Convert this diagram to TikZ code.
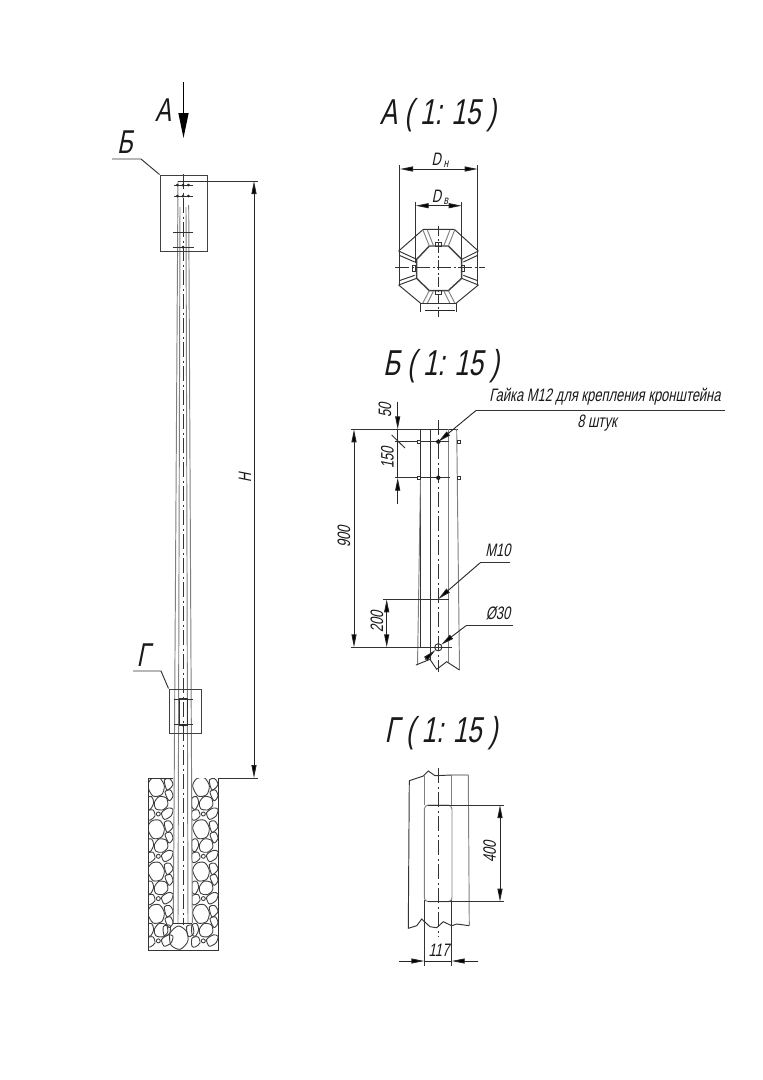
\documentclass[tikz,border=0pt]{standalone}
\usepackage{fontspec}
\usetikzlibrary{arrows.meta,calc}
\newfontfamily\gost[FakeSlant=0.2,FakeStretch=0.72]{Liberation Sans}
\tikzset{
  ln/.style={line width=0.95pt,draw=black!80},
  lt/.style={line width=0.95pt,draw=black!50},
  dimline/.style={line width=0.9pt,draw=black!85},
  axisline/.style={line width=0.9pt,draw=black!80,dash pattern=on 15pt off 3.5pt on 2pt off 3.5pt},
  arr/.style={-{Triangle[length=13pt,width=5pt,fill=black]}},
  arrs/.style={{Triangle[length=13pt,width=5pt,fill=black]}-{Triangle[length=13pt,width=5pt,fill=black]}},
  title/.style={font=\gost\fontsize{36}{36}\selectfont,inner sep=0pt,text=black!90},
  dimtext/.style={font=\gost\fontsize{18}{18}\selectfont,inner sep=0pt,text=black!90},
  stone/.style={line width=0.9pt,draw=black!75},
}
\newcommand{\stonecell}{%
  \draw[stone] plot[smooth cycle] coordinates {(38,48)(50,26)(74,24)(88,48)(80,74)(54,78)};
  \draw[stone] plot[smooth cycle] coordinates {(58,98)(72,80)(94,84)(98,106)(82,120)(62,116)};
  \draw[stone] (70,132) circle (6);
  \draw[stone] plot[smooth cycle] coordinates {(88,30)(104,26)(114,44)(96,60)};
  \draw[stone] plot[smooth cycle] coordinates {(90,66)(106,60)(114,78)(102,92)};
  \draw[stone] plot[smooth cycle] coordinates {(36,84)(50,80)(56,98)(46,118)(36,112)};
  \draw[stone] plot[smooth cycle] coordinates {(80,128)(100,114)(114,118)(108,138)(88,148)};
  \draw[stone] plot[smooth cycle] coordinates {(36,124)(54,120)(60,138)(46,150)(36,148)};
}
\begin{document}
\begin{tikzpicture}[x=1pt,y=-1pt]
\useasboundingbox (0,0) rectangle (763,1080);
\fill[white] (0,0) rectangle (763,1080);

% ---------- foundation
\begin{scope}
  \clip (148,778) rectangle (218,950);
  \begin{scope}[shift={(135,770)},x=0.3333pt,y=-0.3333pt]
    \foreach \k in {0,1,2,3}{
      \begin{scope}[yshift=-\k*42.3pt]
        \stonecell
      \end{scope}
      \begin{scope}[xshift=45pt,yshift=-\k*42.3pt]
        \stonecell
      \end{scope}
    }
    \draw[stone] plot[smooth cycle] coordinates {(105,490)(130,468)(155,485)(158,515)(135,538)(108,525)};
    \draw[stone] plot[smooth cycle] coordinates {(155,470)(172,466)(176,490)(160,500)};
    \draw[stone] plot[smooth cycle] coordinates {(85,470)(105,466)(104,490)(88,498)};
  \end{scope}
\end{scope}
\draw[ln] (148,778) -- (148,950) -- (218,950) -- (218,778);
\draw[ln] (148,778) -- (173,778);
\fill[white] (178,181) -- (173,923) -- (192,923) -- (189,181) -- cycle;

% ---------- pole
\draw[lt] (178,181) -- (173.3,923);
\draw[lt] (188.7,205) -- (192.3,923);
\draw[lt] (180,207) -- (178,923);
\draw[lt] (186,207) -- (188,923);
\draw[ln] (173.3,923) -- (192.3,923);
\draw[axisline] (183,174) -- (183,925);

% ---------- view B box, bolts
\node[draw=black!75,line width=1pt,minimum width=47pt,minimum height=76pt,inner sep=0pt] (boxB) at (183.5,213) {};
\coordinate (legB1) at (112,159);
\coordinate (legB2) at (141,159);
\draw[ln] (legB1) -- (legB2) -- (boxB.north west);
\node[title,font=\gost\fontsize{33}{33}\selectfont] (lblB) at (125,142) {Б};
\foreach \yy/\xa/\xb in {185/174/193,196/174/193,232/173/193,247/172.5/194}{
  \draw[ln] (\xa,\yy) -- (\xb,\yy);
}
\foreach \yy in {185,196}{
  \foreach \xx in {177.3,183,188.3}{\fill[black!85] (\xx,\yy) circle (1.5);}
}
\fill[black!85] (183,247) circle (1.5);

% ---------- view A arrow
\node[title,font=\gost\fontsize{33}{33}\selectfont] (lblA) at (163,110) {А};
\coordinate (arrA1) at (183.5,82);
\coordinate (arrA2) at (183.5,138);
\draw[line width=1.2pt,-{Triangle[length=25pt,width=10pt,fill=black]}] (arrA1) -- (arrA2);

% ---------- view G box
\node[draw=black!75,line width=1pt,minimum width=32pt,minimum height=44pt,inner sep=0pt] (boxG) at (185,711) {};
\coordinate (legG1) at (133,671);
\coordinate (legG2) at (161,671);
\draw[ln] (legG1) -- (legG2) -- (boxG.north west);
\node[title,font=\gost\fontsize{33}{33}\selectfont] (lblG) at (143,655) {Г};
\draw[ln] (179.3,698) rectangle (187.3,725);
\draw[ln] (174,699) -- (193,699);
\draw[ln] (174,724) -- (193,724);
\fill[black!85] (183,725) circle (1.5);

% ---------- dimension H
\coordinate (hTop) at (254,181);
\coordinate (hBot) at (254,778);
\draw[ln] (178,181) -- (258,181);
\draw[ln] (218,778) -- (258,778);
\draw[dimline,arrs] (hTop) -- (hBot);
\node[dimtext,rotate=90] (lblH) at (245,478) {H};

% ---------- section A
\node[title] (titA) at (438,115) {А ( 1: 15 )};
\begin{scope}[shift={(400,220)},x=0.3333pt,y=-0.3333pt]
  \draw[line width=1.4pt,draw=black!75] (88,78) -- (145,78) -- (185,118) -- (185,175) -- (145,212) -- (88,212) -- (50,175) -- (50,118) -- cycle;
  \draw[ln] (-4,93) -- (70,28) -- (163,28) -- (235,93);
  \draw[ln] (-4,195) -- (62,250);
  \draw[ln] (235,195) -- (168,250);
  \draw[lt] (68,28) -- (88,78); \draw[lt] (82,30) -- (100,76);
  \draw[lt] (165,28) -- (145,78); \draw[lt] (150,30) -- (132,76);
  \draw[ln] (-4,93) -- (50,118); \draw[ln] (-2,106) -- (44,126);
  \draw[ln] (235,93) -- (185,118); \draw[ln] (233,106) -- (190,126);
  \draw[ln] (-4,195) -- (50,175); \draw[ln] (-2,182) -- (44,166);
  \draw[ln] (235,195) -- (185,175); \draw[ln] (233,182) -- (190,166);
  \draw[lt] (68,250) -- (88,212); \draw[lt] (82,250) -- (100,214);
  \draw[lt] (165,250) -- (145,212); \draw[lt] (150,250) -- (132,214);
  \draw[ln] (62,250) -- (168,250) -- (168,275);
  \draw[ln] (62,250) -- (62,275);
  \draw[line width=1.6pt,draw=black!85] (75,272) -- (165,272);
  \draw[ln] (107,68) rectangle (125,78);
  \draw[ln] (107,212) rectangle (125,222);
  \draw[ln] (37,135) rectangle (47,155);
  \draw[ln] (183,135) rectangle (193,155);
\end{scope}
\coordinate (dnL) at (400,169);
\coordinate (dnR) at (477.7,169);
\coordinate (dvL) at (415.7,205.7);
\coordinate (dvR) at (461.7,205.7);
\draw[ln] (399.5,165) -- (399.5,286);
\draw[ln] (477.7,165) -- (477.7,286);
\draw[ln] (415.7,202) -- (415.7,263);
\draw[ln] (461.7,202) -- (461.7,263);
\draw[dimline,arrs] (dnL) -- (dnR);
\draw[dimline,arrs] (dvL) -- (dvR);
\node[dimtext] (lblDn) at (440,160) {D\kern2.5pt\raisebox{-2pt}{\fontsize{12}{12}\selectfont н}};
\node[dimtext] (lblDv) at (440,197) {D\kern2.5pt\raisebox{-2pt}{\fontsize{12}{12}\selectfont в}};
\draw[axisline,dash pattern=on 10pt off 2.5pt on 2pt off 2.5pt] (438.7,226) -- (438.7,317);
\draw[axisline,dash pattern=on 14pt off 2.5pt on 2pt off 2.5pt] (395,267.5) -- (485,267.5);

% ---------- section B
\node[title] (titB) at (441,366) {Б ( 1: 15 )};
\draw[ln] (350.7,429.3) -- (458,429.3);
\draw[ln] (420,429.3) -- (420,647.3);
\draw[ln] (430,429.3) -- (430,660);
\draw[lt] (420.5,480) -- (417.5,665);
\draw[lt] (448.3,429.3) -- (448.3,662);
\draw[lt] (456.7,429.3) -- (459.5,670);
\draw[axisline] (438.3,420) -- (438.3,672);
\draw[ln] (416,665) -- (430,659.3) -- (436.7,669.3) -- (446.7,661.7) -- (459.5,670);
\draw[ln] (395,441.7) -- (449,441.7);
\draw[ln] (395,477.7) -- (450,477.7);
\foreach \yy in {441.7,477.7}{
  \fill[black!90] (438.3,\yy) circle (2.2);
  \draw[ln,fill=white] (417.5,\yy-1.7) rectangle (420.5,\yy+1.7);
  \draw[ln,fill=white] (457,\yy-1.7) rectangle (460,\yy+1.7);
}
\coordinate (d50a) at (397.7,401.7);
\coordinate (d50b) at (397.7,429.3);
\coordinate (d150a) at (397.7,503.5);
\coordinate (d150b) at (397.7,477.7);
\draw[dimline,arr] (d50a) -- (d50b);
\draw[dimline] (d50b) -- (d150b);
\draw[dimline,arr] (d150a) -- (d150b);
\draw[ln] (391.7,435) -- (405,448);
\node[dimtext,rotate=90] (lbl50) at (385,410) {50};
\node[dimtext,rotate=90] (lbl150) at (387.5,458) {150};
\coordinate (d900a) at (354,429.3);
\coordinate (d900b) at (354,647.3);
\draw[dimline,arrs] (d900a) -- (d900b);
\node[dimtext,rotate=90] (lbl900) at (344,537) {900};
\draw[ln] (383,599.3) -- (449,599.3);
\draw[ln] (350.7,647.3) -- (451.7,647.3);
\coordinate (d200a) at (386.7,599.3);
\coordinate (d200b) at (386.7,647.3);
\draw[dimline,arrs] (d200a) -- (d200b);
\node[dimtext,rotate=90] (lbl200) at (377,622) {200};
\draw[ln] (438.3,647.3) circle (3.6);
\coordinate (nutP) at (438.3,441.7);
\coordinate (nutK) at (476,410.5);
\coordinate (nutE) at (725,410.5);
\draw[ln] (nutE) -- (nutK);
\draw[dimline,arr] (nutK) -- (nutP);
\node[dimtext,anchor=base] (lblNut) at (605,401) {Гайка М12 для крепления кронштейна};
\node[dimtext,anchor=base] (lblNut2) at (597,427) {8 штук};
\coordinate (m10P) at (438.3,599);
\coordinate (m10K) at (480.7,562.3);
\coordinate (m10E) at (510,562.3);
\draw[ln] (m10E) -- (m10K);
\draw[dimline,arr] (m10K) -- (m10P);
\node[dimtext] (lblM10) at (498,550) {М10};
\coordinate (phE) at (512.7,625.7);
\coordinate (phK) at (466,625.7);
\coordinate (phA) at (441.2,644.7);
\coordinate (phB) at (435.4,650);
\coordinate (phC) at (425,659.5);
\draw[ln] (phE) -- (phK);
\draw[dimline,arr] (phK) -- (phA);
\draw[dimline,arr] (phC) -- (phB);
\node[dimtext] (lblPh) at (498,613) {Ø30};

% ---------- section G
\node[title] (titG) at (441,733) {Г ( 1: 15 )};
\draw[ln] (409.3,780.7) -- (423.3,776) -- (428.3,771) -- (435,775.7) -- (451.7,775) -- (468.3,775);
\draw[ln] (409.3,780.7) -- (408.3,928.3) -- (416.7,925.7) -- (421.7,919) -- (430,926.7) -- (436.7,927.7) -- (443.3,921.7) -- (451.7,925.7) -- (456.7,924) -- (469.3,925.7);
\draw[lt] (424.3,775) -- (424.3,805);
\draw[lt] (451.7,775) -- (451.7,805);
\draw[lt] (468.3,775) -- (469.3,925.7);
\draw[ln] (424.3,900) -- (424.3,966);
\draw[ln] (451.7,900) -- (451.7,966);
\draw[lt,rounded corners=4pt] (424.3,805) rectangle (452,901.7);
\draw[axisline] (438.3,768) -- (438.3,937);
\draw[ln] (428,805) -- (504,805);
\draw[ln] (428,901.7) -- (504,901.7);
\coordinate (d400a) at (500,805);
\coordinate (d400b) at (500,901.7);
\draw[dimline,arrs] (d400a) -- (d400b);
\node[dimtext,rotate=90] (lbl400) at (489.7,851.7) {400};
\coordinate (d117a) at (399,961);
\coordinate (d117A) at (424.3,961);
\coordinate (d117B) at (451.7,961);
\coordinate (d117b) at (478,961);
\draw[dimline,arr] (d117a) -- (d117A);
\draw[dimline,arr] (d117b) -- (d117B);
\draw[dimline] (d117A) -- (d117B);
\node[dimtext] (lbl117) at (439,950.5) {117};
\end{tikzpicture}
\end{document}
